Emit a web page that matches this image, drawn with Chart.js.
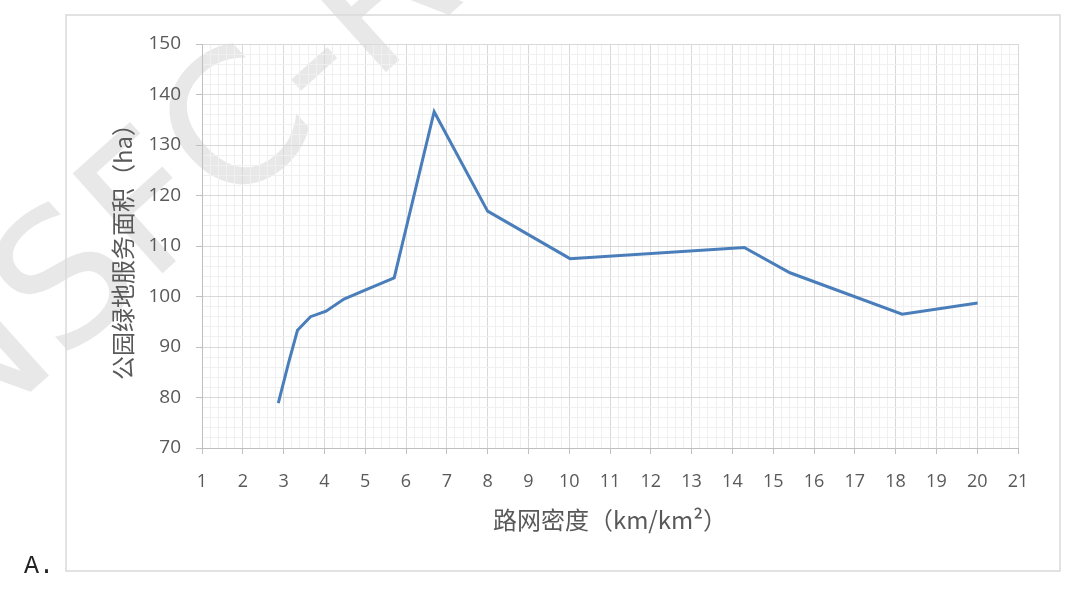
<!DOCTYPE html>
<html>
<head>
<meta charset="utf-8">
<script src="https://cdn.jsdelivr.net/npm/chart.js@4/dist/chart.umd.min.js"></script>
<style>
  html, body { margin: 0; padding: 0; background: #fff; }
  #wrap { width: 1080px; height: 597px; position: relative; }
</style>
</head>
<body>
<div id="wrap"><canvas id="grafico"></canvas></div>
<script>
// road network density (km/km2) vs. park service area (ha)
const densidade = [2.87, 3.12, 3.34, 3.66, 4.04, 4.48, 5.04, 5.71, 6.69, 8.0, 10.02, 14.29, 15.41, 18.16, 20.01];
const area = [78.9, 86.8, 93.3, 96.0, 97.1, 99.5, 101.4, 103.7, 136.6, 116.9, 107.5, 109.7, 104.7, 96.5, 98.7];

const tituloX = '路网密度（km/km²）';
const tituloY = '公园绿地服务面积（ha）';
const marca = 'NSFC-R';

const pontos = densidade.map((x, i) => ({ x: x, y: area[i] }));

const ehInteiro = (v, passo) => Math.abs(v / passo - Math.round(v / passo)) < 1e-6;

// frame, watermark and the "A." label
const fundo = {
    id: 'fundo',
    beforeDraw(chart) {
        const ctx = chart.ctx;
        ctx.save();
        ctx.fillStyle = '#fff';
        ctx.fillRect(0, 0, chart.width, chart.height);
        ctx.translate(-72, 420);
        ctx.rotate(-42 * Math.PI / 180);
        ctx.font = '184px "DejaVu Sans"';
        ctx.fillStyle = '#e8e8e8';
        ctx.textBaseline = 'middle';
        ctx.fillText(marca, 0, 0);
        ctx.restore();

        ctx.save();
        ctx.strokeStyle = '#d9d9d9';
        ctx.lineWidth = 1.5;
        ctx.strokeRect(66, 15, 994, 556);
        ctx.fillStyle = '#222';
        ctx.font = '25px "Liberation Mono"';
        ctx.textBaseline = 'middle';
        ctx.fillText('A.', 24, 566);
        ctx.restore();
    }
};

const ctG = document.getElementById('grafico').getContext('2d');
const grafico = new Chart(ctG, {
    type: 'line',
    data: {
        datasets: [{
            data: pontos,
            borderColor: '#4a7ebb',
            borderWidth: 3,
            pointRadius: 0,
            tension: 0,
            fill: false
        }]
    },
    options: {
        responsive: true,
        maintainAspectRatio: false,
        animation: false,
        layout: { padding: { left: 106, top: 44, right: 62, bottom: 57 } },
        plugins: {
            legend: { display: false },
            tooltip: { enabled: false }
        },
        scales: {
            x: {
                type: 'linear',
                min: 1,
                max: 21,
                afterFit: (s) => { s.height = 92; },
                ticks: {
                    stepSize: 0.2,
                    autoSkip: false,
                    maxTicksLimit: 1000,
                    maxRotation: 0,
                    padding: 17,
                    color: '#595959',
                    font: { family: 'Open Sans', size: 18 },
                    callback: (v) => ehInteiro(v, 1) ? String(Math.round(v)) : ''
                },
                grid: {
                    color: (c) => ehInteiro(c.tick.value, 1) ? '#d9d9d9' : '#f0f0f0',
                    lineWidth: 1,
                    tickLength: 6,
                    tickColor: (c) => ehInteiro(c.tick.value, 1) ? '#bfbfbf' : 'rgba(0,0,0,0)'
                },
                border: { color: '#bfbfbf' },
                title: {
                    display: true,
                    text: tituloX,
                    color: '#595959',
                    font: { family: 'Noto Sans CJK SC', size: 24 },
                    padding: { top: 0, bottom: 6 }
                }
            },
            y: {
                min: 70,
                max: 150,
                afterFit: (s) => { s.width = 96; },
                ticks: {
                    stepSize: 2,
                    autoSkip: false,
                    maxTicksLimit: 1000,
                    padding: 15,
                    color: '#595959',
                    font: { family: 'Open Sans', size: 19 },
                    callback: (v) => ehInteiro(v, 10) ? String(Math.round(v)) : ''
                },
                grid: {
                    color: (c) => ehInteiro(c.tick.value, 10) ? '#d9d9d9' : '#f0f0f0',
                    lineWidth: 1,
                    tickLength: 6,
                    tickColor: (c) => ehInteiro(c.tick.value, 10) ? '#bfbfbf' : 'rgba(0,0,0,0)'
                },
                border: { color: '#bfbfbf' },
                title: {
                    display: true,
                    text: tituloY,
                    color: '#595959',
                    font: { family: 'Noto Sans CJK SC', size: 24 },
                    padding: { top: 2, bottom: 0 }
                }
            }
        }
    },
    plugins: [fundo]
});
</script>
</body>
</html>
